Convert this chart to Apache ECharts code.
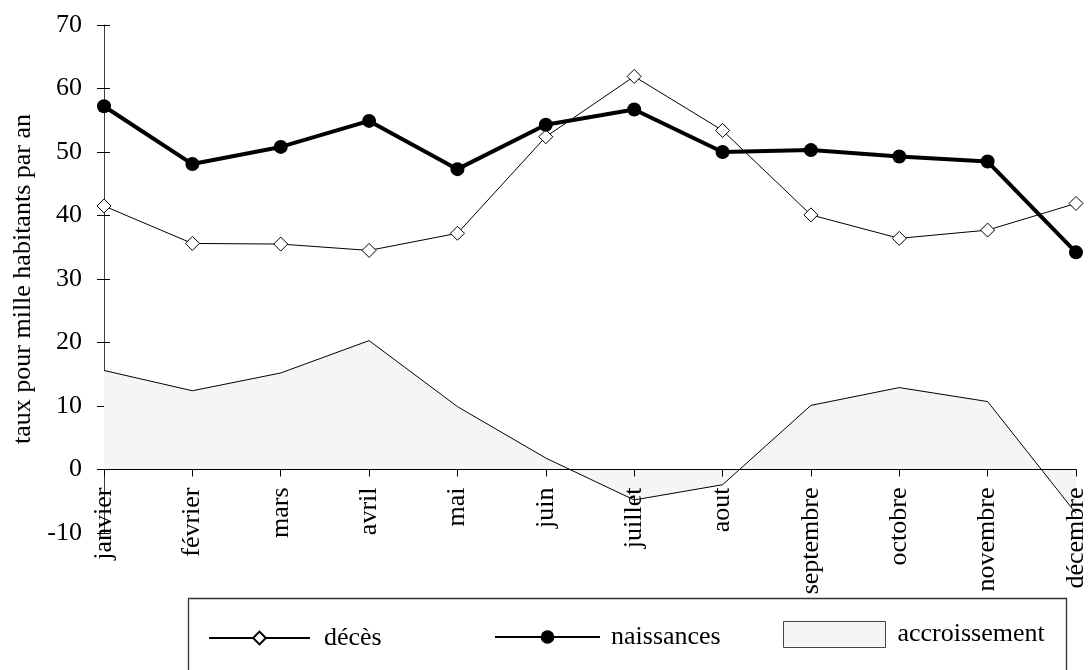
<!DOCTYPE html>
<html>
<head>
<meta charset="utf-8">
<script src="https://cdn.jsdelivr.net/npm/echarts@6/dist/echarts.min.js"></script>
<style>
html,body{margin:0;padding:0;background:#fff;}
#chart{width:1089px;height:670px;}
</style>
</head>
<body>
<div id="chart"></div>
<script>
var months = ['janvier','février','mars','avril','mai','juin','juillet','aout','septembre','octobre','novembre','décembre'];
var deces = [41.5, 35.6, 35.5, 34.5, 37.2, 52.4, 61.9, 53.4, 40.1, 36.4, 37.7, 41.9];
var naissances = [57.2, 48.1, 50.8, 54.9, 47.3, 54.3, 56.7, 50.0, 50.3, 49.3, 48.5, 34.2];
var accroissement = [15.6, 12.4, 15.2, 20.3, 9.9, 1.8, -4.8, -2.4, 10.1, 12.9, 10.7, -6.9];
var yTicks = {min: -10, max: 70, interval: 10};
var yTitle = 'taux pour mille habitants par an';

var FONT = 'Liberation Serif';
var W = 1089, H = 670;
var GRID = {left: 104, right: 10, top: 25, bottom: 137};
var plotH = H - GRID.top - GRID.bottom;
// distance from bottom of grid up to the value 0 (x axis sits on zero)
var zeroOffset = plotH * (0 - yTicks.min) / (yTicks.max - yTicks.min);

var chart = echarts.init(document.getElementById('chart'));
chart.setOption({
  animation: false,
  backgroundColor: '#fff',
  textStyle: {fontFamily: FONT, color: '#000'},
  grid: {left: GRID.left, right: GRID.right, top: GRID.top, bottom: GRID.bottom, containLabel: false},
  xAxis: {
    type: 'category',
    data: months,
    boundaryGap: false,
    offset: -zeroOffset,
    z: 3,
    axisLine: {onZero: false, lineStyle: {color: '#000', width: 1}},
    axisTick: {alignWithLabel: true, length: 7, lineStyle: {color: '#000'}},
    axisLabel: {rotate: 90, margin: 18, fontSize: 26, fontFamily: FONT, color: '#000', interval: 0},
    splitLine: {show: false}
  },
  yAxis: [{
    type: 'value',
    min: yTicks.min, max: yTicks.max, interval: yTicks.interval,
    name: yTitle,
    nameLocation: 'middle',
    nameRotate: 90,
    nameGap: 66,
    nameTextStyle: {fontSize: 26, fontFamily: FONT, color: '#000'},
    axisLine: {show: true, onZero: false, lineStyle: {color: '#404040', width: 1}},
    axisTick: {show: true, length: 7, lineStyle: {color: '#000'}},
    axisLabel: {margin: 22, fontSize: 26, fontFamily: FONT, color: '#000'},
    splitLine: {show: false}
  }, {
    type: 'value',
    position: 'left',
    min: yTicks.min, max: yTicks.max, interval: yTicks.interval,
    axisLine: {show: false},
    axisTick: {show: true, inside: true, length: 6, lineStyle: {color: '#000'}},
    axisLabel: {show: false},
    splitLine: {show: false}
  }],
  legend: [{
    data: ['décès'], left: 208, top: 625, padding: 0, z: 200,
    itemWidth: 101, itemHeight: 16,
    textStyle: {fontSize: 26, fontFamily: FONT, color: '#000', padding: [0,0,0,9]}
  }, {
    data: ['naissances'], left: 494, top: 624, padding: 0, z: 200,
    itemWidth: 105, itemHeight: 17,
    textStyle: {fontSize: 26, fontFamily: FONT, color: '#000', padding: [0,0,0,6]}
  }, {
    data: [{name: 'accroissement', icon: 'rect', itemStyle: {color: '#f5f5f5', borderColor: '#444', borderWidth: 1}}],
    left: 783, top: 621, padding: 0, z: 200,
    itemWidth: 102, itemHeight: 26,
    textStyle: {fontSize: 26, fontFamily: FONT, color: '#000', padding: [0,0,0,7]}
  }],
  graphic: [{
    type: 'rect', z: 100, silent: true,
    shape: {x: 188.5, y: 598.5, width: 878, height: 100},
    style: {fill: '#fff', stroke: '#333', lineWidth: 1.3}
  }],
  series: [{
    name: 'accroissement',
    type: 'line',
    data: accroissement,
    symbol: 'none',
    z: 1,
    lineStyle: {color: '#000', width: 1},
    itemStyle: {color: '#000'},
    areaStyle: {color: '#f5f5f5', opacity: 1}
  }, {
    name: 'décès',
    type: 'line',
    data: deces,
    symbol: 'diamond',
    symbolSize: 14,
    z: 3,
    lineStyle: {color: '#000', width: 1},
    itemStyle: {color: '#fff', borderColor: '#000', borderWidth: 1}
  }, {
    name: 'naissances',
    type: 'line',
    data: naissances,
    symbol: 'circle',
    symbolSize: 14,
    z: 4,
    lineStyle: {color: '#000', width: 4},
    itemStyle: {color: '#000', borderColor: '#000', borderWidth: 0}
  }]
});
</script>
</body>
</html>
